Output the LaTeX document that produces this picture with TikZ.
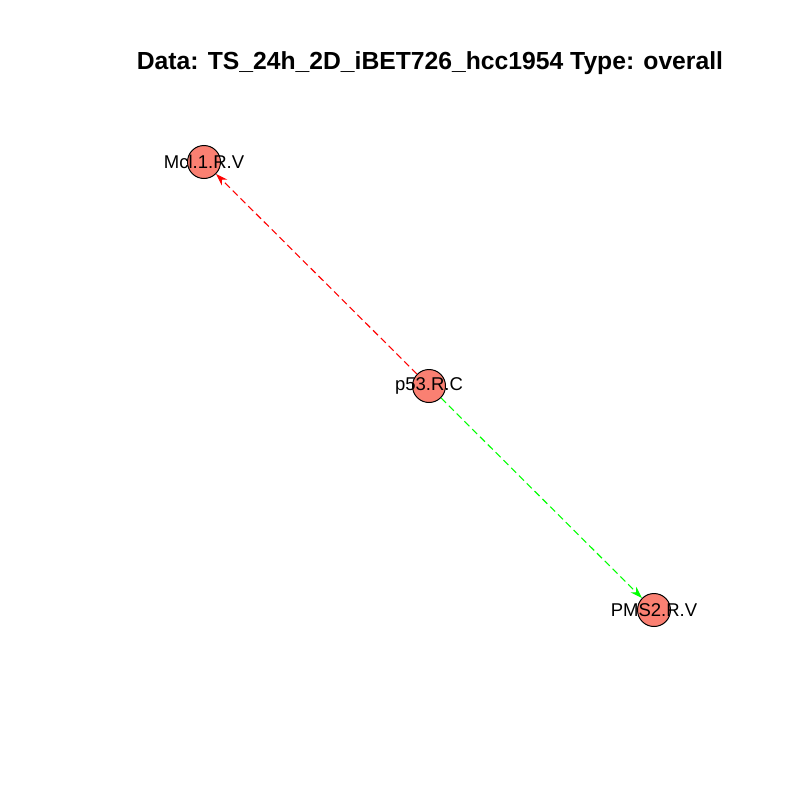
\documentclass[tikz,border=0pt]{standalone}
\usepackage{fontspec}
\setmainfont{Liberation Sans}
\usetikzlibrary{arrows.meta}
\begin{document}
\begin{tikzpicture}[x=1pt,y=-1pt,
  vert/.style={circle,draw=black,fill={rgb,255:red,250;green,128;blue,114},minimum size=33pt,inner sep=0pt,line width=1pt},
  vlabel/.style={font=\fontsize{18.5}{20}\selectfont,inner sep=0pt},
  edge/.style={dashed,dash pattern=on 7pt off 4pt,line width=1.1pt,-{Stealth[length=12pt,width=8pt]}}]
\useasboundingbox (0,0) rectangle (800,800);
\fill[white] (0,0) rectangle (800,800);
\node[font=\bfseries\fontsize{24.7}{28}\selectfont] (title) at (430,63) {Data: TS\_24h\_2D\_iBET726\_hcc1954 Type: overall};
\node[vert] (mcl) at (204,162) {};
\node[vert] (p53) at (429,386) {};
\node[vert] (pms) at (654,610) {};
\draw[edge,red] (p53) -- (mcl);
\draw[edge,green] (p53) -- (pms);
\node[vlabel] (lmcl) at (mcl) {Mcl.1.R.V};
\node[vlabel] (lp53) at (p53) {p53.R.C};
\node[vlabel] (lpms) at (pms) {PMS2.R.V};
\end{tikzpicture}
\end{document}
